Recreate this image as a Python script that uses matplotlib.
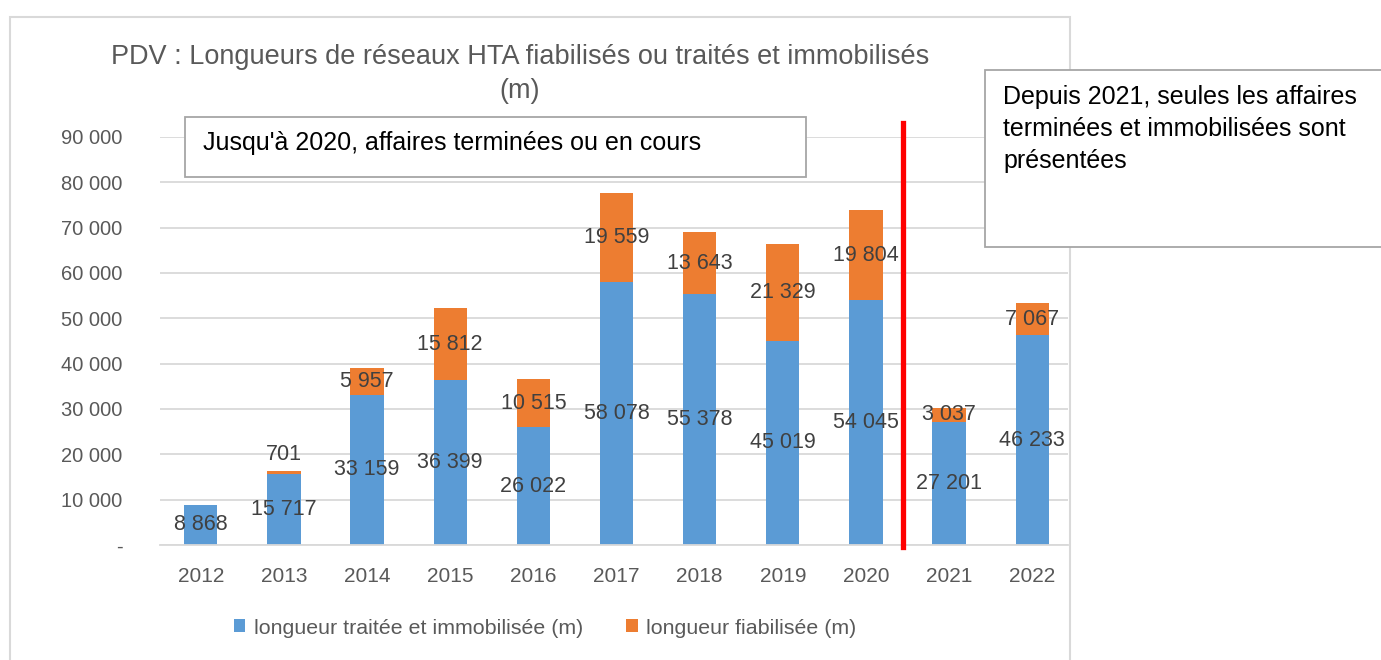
import matplotlib
matplotlib.use("Agg")
import matplotlib.pyplot as plt
from matplotlib.patches import Rectangle
from matplotlib.ticker import FuncFormatter
import numpy as np

years = ["2012", "2013", "2014", "2015", "2016", "2017", "2018", "2019", "2020", "2021", "2022"]
traitee = [8868, 15717, 33159, 36399, 26022, 58078, 55378, 45019, 54045, 27201, 46233]
fiabilisee = [0, 701, 5957, 15812, 10515, 19559, 13643, 21329, 19804, 3037, 7067]

blue = "#5B9BD5"
orange = "#ED7D31"
grey = "#595959"

plt.rcParams["font.family"] = ["Liberation Sans", "DejaVu Sans"]

W, H = 1381, 660
fig = plt.figure(figsize=(W / 100, H / 100), dpi=100)
ax = fig.add_axes([160 / W, 1 - 545 / H, (1068 - 160) / W, (545 - 137) / H])

x = np.arange(len(years))
b1 = ax.bar(x, traitee, width=0.40, color=blue, zorder=2,
            label="longueur traitée et immobilisée (m)")
b2 = ax.bar(x, fiabilisee, width=0.40, bottom=traitee, color=orange, zorder=2,
            label="longueur fiabilisée (m)")

def fmt(v):
    return f"{v:,}".replace(",", " ")

lab = dict(ha="center", va="center", fontsize=15.5, color="#404040", zorder=4)
for i in range(len(years)):
    ax.text(x[i], traitee[i] / 2, fmt(traitee[i]), **lab)
    f = fiabilisee[i]
    if f == 0:
        continue
    if f < 2000 and i < 9:
        # small segment: label sits above the bar
        ax.text(x[i], traitee[i] + f + 3500, fmt(f), **lab)
    else:
        ax.text(x[i], traitee[i] + f / 2, fmt(f), **lab)

ax.set_xlim(-0.49, 10.43)
ax.set_ylim(0, 90000)
ax.set_yticks(np.arange(0, 90001, 10000))
ax.yaxis.set_major_formatter(FuncFormatter(lambda v, p: "-" if v == 0 else fmt(int(v))))
ax.set_xticks(x)
ax.set_xticklabels(years)
ax.grid(axis="y", color="#D9D9D9", lw=1.3, zorder=0)
for s in ["top", "right", "left"]:
    ax.spines[s].set_visible(False)
ax.spines["bottom"].set_color("#D9D9D9")
ax.spines["bottom"].set_linewidth(1.3)
ax.tick_params(axis="y", length=0, pad=27, labelsize=14.5, labelcolor=grey)
ax.tick_params(axis="x", length=0, pad=16, labelsize=15, labelcolor=grey)

# separation 2020 / 2021
ax.plot([8.45, 8.45], [-500, 93000], color="#FF0000", lw=3.8, zorder=5, clip_on=False)

fig.text(520 / W, 1 - 74 / H,
         "PDV : Longueurs de réseaux HTA fiabilisés ou traités et immobilisés\n(m)",
         ha="center", va="center", fontsize=19.5, color=grey, linespacing=1.45)

leg = ax.legend(loc="center", bbox_to_anchor=(545 / W, 1 - 628 / H),
                bbox_transform=fig.transFigure, ncol=2, frameon=False,
                fontsize=15.4, handlelength=0.55, handleheight=0.55,
                columnspacing=2.0, handletextpad=0.4)
for t in leg.get_texts():
    t.set_color(grey)

# chart border
fig.add_artist(Rectangle((10 / W, -0.05), (1070 - 10) / W, 1 - 17 / H + 0.05,
                         transform=fig.transFigure, fill=False,
                         edgecolor="#D9D9D9", lw=1.5, zorder=-1))

# text boxes
fig.add_artist(Rectangle((185 / W, 1 - 177 / H), (806 - 185) / W, 60 / H,
                         transform=fig.transFigure, facecolor="white",
                         edgecolor="#A6A6A6", lw=1.3, zorder=3))
fig.text(203 / W, 1 - 143 / H, "Jusqu'à 2020, affaires terminées ou en cours",
         ha="left", va="center", fontsize=18, color="black", zorder=4)

fig.add_artist(Rectangle((985 / W, 1 - 247 / H), 0.3, 177 / H,
                         transform=fig.transFigure, facecolor="white",
                         edgecolor="#A6A6A6", lw=1.3, zorder=3))
fig.text(1003 / W, 1 - 129 / H,
         "Depuis 2021, seules les affaires\nterminées et immobilisées sont\nprésentées",
         ha="left", va="center", fontsize=18, color="black", linespacing=1.4, zorder=4)

fig.savefig("out.png", dpi=100)
